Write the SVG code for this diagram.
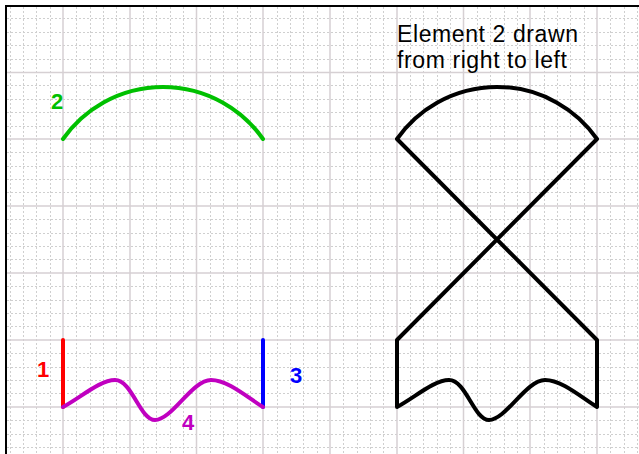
<svg xmlns="http://www.w3.org/2000/svg" width="639" height="454" viewBox="0 0 639 454">
<style>
.minor{fill:none;stroke:#cfcfcf;stroke-width:1;stroke-dasharray:2,2}
.major{fill:none;stroke:#d6d0d3;stroke-width:1.5}
.shape{fill:none;stroke-width:4;stroke-linejoin:round;stroke-linecap:round}
.lbl{font-family:"Liberation Sans",Arial,sans-serif;font-size:22px;font-weight:bold}
.cap{font-family:"Liberation Sans",Arial,sans-serif;font-size:23px;letter-spacing:0.6px;fill:#000}
</style>
<rect x="0" y="0" width="639" height="454" fill="#fff"/>
<g id="grid">
<path class="minor" d="M10.5,7V454M23.5,7V454M36.5,7V454M50.5,7V454M76.5,7V454M90.5,7V454M103.5,7V454M116.5,7V454M143.5,7V454M156.5,7V454M170.5,7V454M183.5,7V454M210.5,7V454M223.5,7V454M237.5,7V454M250.5,7V454M277.5,7V454M290.5,7V454M303.5,7V454M317.5,7V454M343.5,7V454M357.5,7V454M370.5,7V454M383.5,7V454M410.5,7V454M423.5,7V454M437.5,7V454M450.5,7V454M477.5,7V454M490.5,7V454M504.5,7V454M517.5,7V454M544.5,7V454M557.5,7V454M570.5,7V454M584.5,7V454M610.5,7V454M624.5,7V454M637.5,7V454"/>
<path class="minor" d="M7,18.5H639M7,32.5H639M7,45.5H639M7,59.5H639M7,85.5H639M7,99.5H639M7,112.5H639M7,126.5H639M7,152.5H639M7,166.5H639M7,179.5H639M7,192.5H639M7,219.5H639M7,233.5H639M7,246.5H639M7,259.5H639M7,286.5H639M7,300.5H639M7,313.5H639M7,326.5H639M7,353.5H639M7,367.5H639M7,380.5H639M7,393.5H639M7,420.5H639M7,434.5H639M7,447.5H639"/>
<path class="major" d="M63,7V454M130,7V454M196.5,7V454M263,7V454M330,7V454M397,7V454M463.5,7V454M530,7V454M597,7V454M7,72.5H639M7,139H639M7,206H639M7,273H639M7,340H639M7,407H639"/>
</g>
<g id="frame" stroke="#000" stroke-width="2" fill="none">
<path d="M6,454V6H639"/>
</g>
<g id="element-black">
<path class="shape" stroke="#000" fill="#fff" d="M397,139 A122,122 0 0 1 597,139 L397,340 L397,407 C414,398 434,380 449,380 C466,380 474,420 489,420 C506,420 526,380 545,380 C562,380 582,398 597,407 L597,340 Z"/>
</g>
<g id="connectors">
<path id="e1" class="shape" stroke="#ff0000" stroke-linecap="butt" d="M63,340V407"/>
<path id="e2" class="shape" stroke="#00c000" d="M63,139 A122,122 0 0 1 263,139"/>
<path id="e3" class="shape" stroke="#0000ff" stroke-linecap="butt" d="M263,340V407"/>
<path id="e4" class="shape" stroke="#c000c0" d="M63,407 C80,398 100,380 115,380 C132,380 140,420 155,420 C172,420 192,380 211,380 C228,380 248,398 263,407"/>
</g>
<g id="labels">
<text class="lbl" x="37" y="377" fill="#ff0000">1</text>
<text class="lbl" x="51" y="109" fill="#00c000">2</text>
<text class="lbl" x="290" y="383" fill="#0000ff">3</text>
<text class="lbl" x="182" y="430" fill="#c000c0" font-weight="normal">4</text>
</g>
<g id="caption">
<text class="cap" x="397" y="42">Element 2 drawn</text>
<text class="cap" x="397" y="68">from right to left</text>
</g>
</svg>
